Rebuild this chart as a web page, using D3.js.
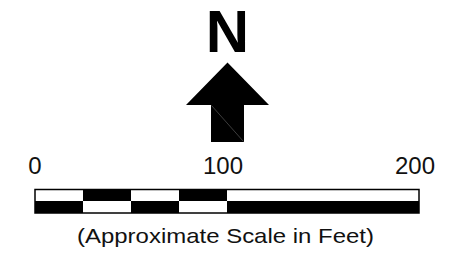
<!DOCTYPE html>
<html>
<head>
<meta charset="utf-8">
<script src="https://cdn.jsdelivr.net/npm/d3@7"></script>
<style>
  body { margin: 0; background: #fff; }
  svg { display: block; font-family: "Liberation Sans", Arial, sans-serif; }
</style>
</head>
<body>
<svg id="chart" width="473" height="253"></svg>
<script>
// scale bar data (feet)
const tickValues = [0, 100, 200];
const segmentStops = [0, 25, 50, 75, 100, 200];
const topRowFill = ["white", "black", "white", "black", "white"];
const bottomRowFill = ["black", "white", "black", "white", "black"];
const northLabel = "N";
const caption = "(Approximate Scale in Feet)";

const svg = d3.select("#chart");

//x scale for the bar
const x = d3.scaleLinear().domain([0, 200]).range([35, 419]);

const barTop = 189.5, barMid = 201, barBot = 213;

//build segments from consecutive stops
const segments = d3.pairs(segmentStops).map((p, i) => ({ a: p[0], b: p[1], i }));

svg.append("g").selectAll("rect.top")
  .data(segments)
  .join("rect")
  .attr("x", d => x(d.a))
  .attr("y", barTop)
  .attr("width", d => x(d.b) - x(d.a))
  .attr("height", barMid - barTop)
  .attr("fill", d => topRowFill[d.i]);

svg.append("g").selectAll("rect.bot")
  .data(segments)
  .join("rect")
  .attr("x", d => x(d.a))
  .attr("y", barMid)
  .attr("width", d => x(d.b) - x(d.a))
  .attr("height", barBot - barMid)
  .attr("fill", d => bottomRowFill[d.i]);

//outline
svg.append("rect")
  .attr("x", x(0))
  .attr("y", barTop)
  .attr("width", x(200) - x(0))
  .attr("height", barBot - barTop)
  .attr("fill", "none")
  .attr("stroke", "black")
  .attr("stroke-width", 1.5);

//tick labels (nudged a bit so the ink lines up like the original)
svg.append("g").selectAll("text")
  .data(tickValues)
  .join("text")
  .attr("x", d => x(d) - (d > 0 ? 4 : 0))
  .attr("y", 174)
  .attr("text-anchor", "middle")
  .attr("font-size", 24)
  .attr("fill", "#111")
  .text(d => d);

//north arrow
const cx = 227.5;
const arrow = d3.path();
arrow.moveTo(cx, 62.5);
arrow.lineTo(cx + 41.5, 105);
arrow.lineTo(cx + 16.5, 105);
arrow.lineTo(cx + 16.5, 142);
arrow.lineTo(cx - 16.5, 142);
arrow.lineTo(cx - 16.5, 105);
arrow.lineTo(cx - 41.5, 105);
arrow.closePath();
svg.append("path").attr("d", arrow.toString()).attr("fill", "black");

svg.append("line")
  .attr("x1", cx - 16).attr("y1", 105.5)
  .attr("x2", cx + 16).attr("y2", 141.5)
  .attr("stroke", "#666").attr("stroke-width", 0.6);

svg.append("text")
  .attr("x", cx)
  .attr("y", 52)
  .attr("text-anchor", "middle")
  .attr("font-size", 60)
  .attr("font-weight", "bold")
  .text(northLabel);

//caption, stretched to the original's width
svg.append("text")
  .attr("x", 225.5)
  .attr("y", 243)
  .attr("text-anchor", "middle")
  .attr("font-size", 21)
  .attr("textLength", 297)
  .attr("lengthAdjust", "spacingAndGlyphs")
  .attr("fill", "#111")
  .text(caption);
</script>
</body>
</html>
